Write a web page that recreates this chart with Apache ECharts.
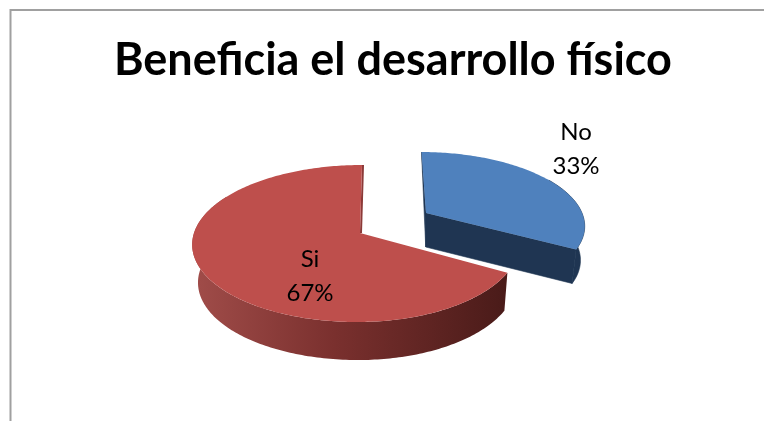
<!DOCTYPE html>
<html><head><meta charset="utf-8">
<style>html,body{margin:0;padding:0;background:#fff}#c{width:764px;height:421px}</style>
<script src="https://cdn.jsdelivr.net/npm/echarts@6/dist/echarts.min.js"></script>
</head><body><div id="c"></div>
<script>
const categories = ['No', 'Si'];
const values = [33, 67];
const titleText = 'Beneficia el desarrollo físico';

const total = values.reduce((a, b) => a + b, 0);
// projection of each slice's disc onto the page (layout, not data)
const views = [
  {ax: 426, ay: 213, vx: 392, R: 156, Rl: 156, k: 70.2, p: 0.1515, depth: 34, shrink: 0.975, cx: 415,
   top: '#4f81bd', wallA: '#1f3552', cut: '#1f3552', lx: 576, ly: 149},
  {ax: 360, ay: 233, vx: 377, R: 158.6, Rl: 166, k: 77.1, p: 0.134, depth: 38, shrink: 0.972, cx: 400,
   top: '#be4f4c', wallA: '#a04c49', cut: '#8c3a38', lx: 310, ly: 276}
];
function project(v, deg) {
  const t = deg * Math.PI / 180, U = Math.sin(t), V = -Math.cos(t);
  const d = 1 - v.p * V;
  return [v.vx + (v.ax + (U > 0 ? v.R : v.Rl) * U - v.vx) / d, v.ay + v.k * V / d];
}
function lower(v, pt) {
  return [v.cx + (pt[0] - v.cx) * v.shrink, pt[1] + v.depth];
}
function arc(v, a, b) {
  const n = Math.max(8, Math.round(Math.abs(b - a))), out = [];
  for (let i = 0; i <= n; i++) out.push(project(v, a + (b - a) * i / n));
  return out;
}
function renderItem(params, api) {
  const i = params.dataIndex, v = views[i];
  const before = values.slice(0, i).reduce((a, b) => a + b, 0);
  const a0 = before / total * 360, a1 = (before + api.value(0)) / total * 360;
  const apex = [v.ax, v.ay];
  const children = [];
  if (i === 0) {
    const rim = arc(v, a0 + 60, a1);
    const solid = {fill: v.wallA, stroke: v.wallA, lineWidth: 0.6};
    children.push({type: 'polygon', shape: {points: rim.concat(rim.slice().reverse().map(p => lower(v, p)))}, style: solid});
    const end = project(v, a1);
    children.push({type: 'polygon', shape: {points: [apex, end, lower(v, end), lower(v, apex)]}, style: solid});
    children.push({type: 'polygon', shape: {points: [project(v, a0), apex, lower(v, apex)]}, style: solid});
  } else {
    const rim = arc(v, a0, 300);
    const low = rim.map(p => lower(v, p));
    children.push({type: 'polygon', shape: {points: rim.concat(low.slice().reverse())},
      style: {fill: new echarts.graphic.LinearGradient(195, 0, 505, 0, [
        {offset: 0, color: '#a04c49'}, {offset: 0.45, color: '#7a302e'}, {offset: 1, color: '#4a1b19'}], true)}});
    const top = project(v, a1);
    children.push({type: 'polygon', shape: {points: [top, apex, [apex[0] + 2, apex[1]], [top[0] + 2, top[1]]]}, style: {fill: v.cut}});
  }
  children.push({type: 'polygon', shape: {points: [apex].concat(arc(v, a0, a1))}, style: {fill: v.top}});
  children.push({type: 'text', z2: 10, style: {
    x: v.lx, y: v.ly, text: categories[i] + '\n' + api.value(0) + '%', align: 'center', verticalAlign: 'middle',
    font: '24px Lato', lineHeight: 34, fill: '#000'}});
  return {type: 'group', children};
}
const chart = echarts.init(document.getElementById('c'), null, {renderer: 'canvas'});
chart.setOption({
  animation: false,
  backgroundColor: '#ffffff',
  title: {text: titleText, left: 109, top: 33, textStyle: {fontFamily: 'Lato', fontWeight: 'bold', fontSize: 45, color: '#000'}},
  graphic: [
    {type: 'polyline', silent: true, shape: {points: [[10.5, 421], [10.5, 10], [764, 10]]}, style: {stroke: '#a0a0a0', lineWidth: 2, fill: null}}
  ],
  series: [{type: 'custom', coordinateSystem: 'none', renderItem, data: values.map((v, i) => ({name: categories[i], value: v}))}]
});
</script></body></html>
